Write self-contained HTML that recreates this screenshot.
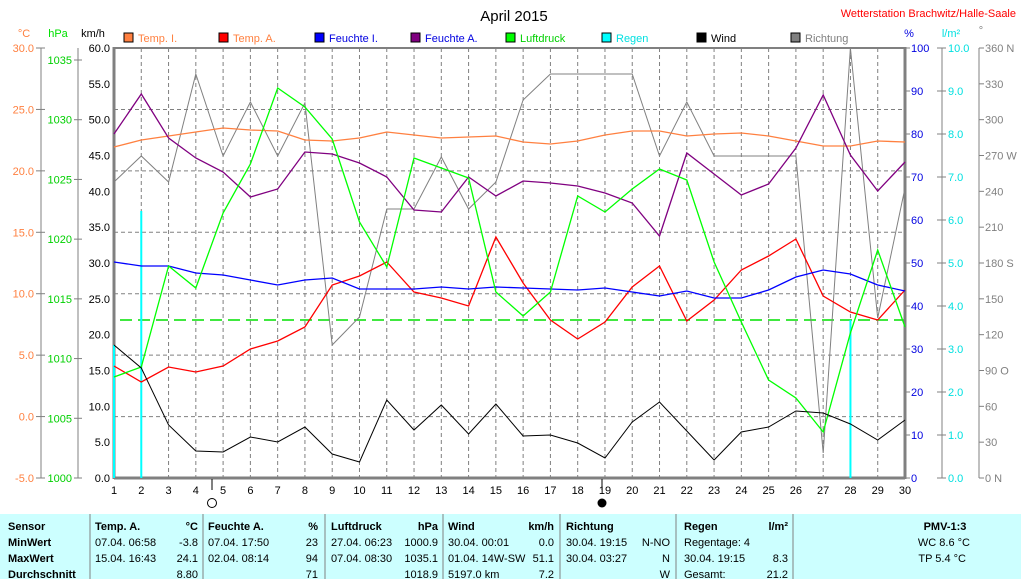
<!DOCTYPE html>
<html><head><meta charset="utf-8"><style>
body{margin:0;background:#fff;width:1021px;height:579px;overflow:hidden}
svg{display:block;font-family:"Liberation Sans",sans-serif}
.tb{font-family:"Liberation Sans",sans-serif;font-size:11px}
</style></head><body>
<svg width="1021" height="579" viewBox="0 0 1021 579">
<text x="514" y="21" font-size="15" text-anchor="middle">April 2015</text>
<text x="1016" y="17" font-size="11" fill="#f00" text-anchor="end">Wetterstation Brachwitz/Halle-Saale</text>
<g font-size="11">
<text x="24" y="37" fill="#ff8040" text-anchor="middle">°C</text>
<text x="58" y="37" fill="#00e000" text-anchor="middle">hPa</text>
<text x="93" y="37" fill="#000" text-anchor="middle">km/h</text>
<text x="909" y="37" fill="#0000e0" text-anchor="middle">%</text>
<text x="951" y="37" fill="#00e0e0" text-anchor="middle">l/m²</text>
<text x="981" y="34" fill="#808080" text-anchor="middle">°</text>
</g>
<g font-size="11" id="legend"></g>
<g id="grid" stroke="#808080" stroke-dasharray="4,3" stroke-width="1"></g>
<line x1="120" y1="320" x2="905" y2="320" stroke="#00e000" stroke-width="1.5" stroke-dasharray="12,6"/>
<g id="axes"></g>
<g id="series" fill="none"></g>
<circle cx="212" cy="503" r="4.5" fill="#fff" stroke="#000"/>
<circle cx="602" cy="503" r="4.5" fill="#000"/>
<line x1="212" y1="479" x2="212" y2="490" stroke="#000"/>
<line x1="602" y1="479" x2="602" y2="490" stroke="#000"/>
<rect x="0" y="514" width="1021" height="65" fill="#ccffff"/>
<g stroke="#808080"><line x1="90" y1="514" x2="90" y2="579"/><line x1="203" y1="514" x2="203" y2="579"/><line x1="325" y1="514" x2="325" y2="579"/><line x1="443" y1="514" x2="443" y2="579"/><line x1="560" y1="514" x2="560" y2="579"/><line x1="676" y1="514" x2="676" y2="579"/><line x1="793" y1="514" x2="793" y2="579"/></g>
<g class="tb" font-size="11">
<g font-weight="bold"><text x="8" y="530">Sensor</text><text x="8" y="546">MinWert</text><text x="8" y="562">MaxWert</text><text x="8" y="578">Durchschnitt</text>
<text x="95" y="530">Temp. A.</text><text x="198" y="530" text-anchor="end">°C</text>
<text x="208" y="530">Feuchte A.</text><text x="318" y="530" text-anchor="end">%</text>
<text x="331" y="530">Luftdruck</text><text x="438" y="530" text-anchor="end">hPa</text>
<text x="448" y="530">Wind</text><text x="554" y="530" text-anchor="end">km/h</text>
<text x="566" y="530">Richtung</text>
<text x="684" y="530">Regen</text><text x="788" y="530" text-anchor="end">l/m²</text>
<text x="945" y="530" text-anchor="middle">PMV-1:3</text></g>
<text x="95" y="546">07.04.  06:58</text><text x="198" y="546" text-anchor="end">-3.8</text>
<text x="95" y="562">15.04.  16:43</text><text x="198" y="562" text-anchor="end">24.1</text>
<text x="198" y="578" text-anchor="end">8.80</text>
<text x="208" y="546">07.04.  17:50</text><text x="318" y="546" text-anchor="end">23</text>
<text x="208" y="562">02.04.  08:14</text><text x="318" y="562" text-anchor="end">94</text>
<text x="318" y="578" text-anchor="end">71</text>
<text x="331" y="546">27.04.  06:23</text><text x="438" y="546" text-anchor="end">1000.9</text>
<text x="331" y="562">07.04.  08:30</text><text x="438" y="562" text-anchor="end">1035.1</text>
<text x="438" y="578" text-anchor="end">1018.9</text>
<text x="448" y="546">30.04.  00:01</text><text x="554" y="546" text-anchor="end">0.0</text>
<text x="448" y="562">01.04.  14W-SW</text><text x="554" y="562" text-anchor="end">51.1</text>
<text x="448" y="578">5197.0 km</text><text x="554" y="578" text-anchor="end">7.2</text>
<text x="566" y="546">30.04.  19:15</text><text x="670" y="546" text-anchor="end">N-NO</text>
<text x="566" y="562">30.04.  03:27</text><text x="670" y="562" text-anchor="end">N</text>
<text x="670" y="578" text-anchor="end">W</text>
<text x="684" y="546">Regentage: 4</text>
<text x="684" y="562">30.04.  19:15</text><text x="788" y="562" text-anchor="end">8.3</text>
<text x="684" y="578">Gesamt:</text><text x="788" y="578" text-anchor="end">21.2</text>
<text x="970" y="546" text-anchor="end">WC 8.6 °C</text>
<text x="966" y="562" text-anchor="end">TP 5.4 °C</text>
</g>
</svg>
<script>
const NS="http://www.w3.org/2000/svg";
function el(p,t,a,txt){const e=document.createElementNS(NS,t);for(const k in a)e.setAttribute(k,a[k]);if(txt!==undefined)e.textContent=txt;p.appendChild(e);return e;}
const X=d=>114+(d-1)*791/29;
const grid=document.getElementById('grid');
for(let d=2;d<=29;d++)el(grid,'line',{x1:X(d),y1:48,x2:X(d),y2:478});
for(let t=0;t<=25;t+=5){const y=416.6-t*12.286;el(grid,'line',{x1:114,y1:y,x2:905,y2:y});}
const ax=document.getElementById('axes');
const g='#808080';
el(ax,'line',{x1:114,y1:47,x2:114,y2:479,stroke:g,'stroke-width':3});
el(ax,'line',{x1:905,y1:47,x2:905,y2:479,stroke:g,'stroke-width':3});
el(ax,'line',{x1:114,y1:48,x2:905,y2:48,stroke:g,'stroke-width':2});
el(ax,'line',{x1:114,y1:478,x2:905,y2:478,stroke:g,'stroke-width':3});
el(ax,'line',{x1:41,y1:48,x2:41,y2:478,stroke:g});
el(ax,'line',{x1:78,y1:48,x2:78,y2:478,stroke:g});
el(ax,'line',{x1:942,y1:48,x2:942,y2:478,stroke:g});
el(ax,'line',{x1:979,y1:48,x2:979,y2:478,stroke:g});
for(let i=0;i<=7;i++){const y=48+i*430/7;const v=(30-5*i).toFixed(1);
 el(ax,'line',{x1:36,y1:y,x2:45,y2:y,stroke:g});el(ax,'text',{x:34,y:y+4,'font-size':11,fill:'#ff8040','text-anchor':'end'},v);}
for(let i=0;i<=7;i++){const h=1000+5*i;const y=478-(h-1000)*418/35;
 el(ax,'line',{x1:74,y1:y,x2:82,y2:y,stroke:g});el(ax,'text',{x:72,y:y+4,'font-size':11,fill:'#00d000','text-anchor':'end'},h);}
for(let i=0;i<=12;i++){const y=478-i*430/12;el(ax,'text',{x:110,y:y+4,'font-size':11,fill:'#000','text-anchor':'end'},(i*5).toFixed(1));}
for(let i=0;i<=10;i++){const y=478-i*43;
 el(ax,'line',{x1:905,y1:y,x2:910,y2:y,stroke:g});el(ax,'text',{x:911,y:y+4,'font-size':11,fill:'#0000e0'},i*10);
 el(ax,'line',{x1:937,y1:y,x2:946,y2:y,stroke:g});el(ax,'text',{x:948,y:y+4,'font-size':11,fill:'#00e0e0'},i.toFixed(1));}
const dn={0:' N',90:' O',180:' S',270:' W',360:' N'};
for(let i=0;i<=12;i++){const y=478-i*430/12;const v=i*30;
 el(ax,'line',{x1:979,y1:y,x2:984,y2:y,stroke:g});el(ax,'text',{x:985,y:y+4,'font-size':11,fill:g},v+(dn[v]||''));}
for(let d=1;d<=30;d++)el(ax,'text',{x:X(d),y:494,'font-size':11,'text-anchor':'middle'},d);
const lg=document.getElementById('legend');
const L=[['Temp. I.','#ff8040',124],['Temp. A.','#ff0000',219],['Feuchte I.','#0000ff',315],['Feuchte A.','#800080',411],['Luftdruck','#00ff00',506],['Regen','#00ffff',602],['Wind','#000000',697],['Richtung','#808080',791]];
const tc=['#ff8040','#ff8040','#0000e0','#0000e0','#00d000','#00e0e0','#000','#808080'];
L.forEach((l,i)=>{el(lg,'rect',{x:l[2],y:33,width:9,height:9,fill:l[1],stroke:'#000'});el(lg,'text',{x:l[2]+14,y:42,fill:tc[i]},l[0]);});
const s=document.getElementById('series');
[[1,345],[2,211],[28,320]].forEach(r=>el(s,'line',{x1:X(r[0]),y1:478,x2:X(r[0]),y2:r[1],stroke:'#00ffff','stroke-width':2}));
const data=[
['#808080',[182,156,182,74,156,102,156,103,345,317,209,209,157,209,182,100,74,74,74,74,156,102,156,156,156,156,453,48,318,188]],
['#ff8040',[147,140,136,132,128,130,131,140,141,138,132,135,138,137,136,142,144,141,135,131,131,136,134,133,136,141,146,146,141,142]],
['#ff0000',[366,382,367,372,366,349,341,327,285,276,262,292,298,306,237,283,320,339,322,287,266,321,300,270,256,239,296,312,320,290]],
['#0000ff',[262,266,266,273,275,280,285,280,278,289,289,289,287,289,287,288,289,290,288,292,296,291,298,298,290,277,270,274,285,291]],
['#800080',[134,94,138,158,172,197,189,152,154,163,177,210,212,177,196,181,183,186,193,203,236,153,174,195,184,148,95,155,191,162]],
['#00ff00',[377,367,266,288,213,164,88,107,139,222,267,158,168,178,292,316,292,196,212,189,169,180,262,322,380,398,432,333,250,327]],
['#000000',[345,368,425,451,452,437,442,427,454,462,400,430,405,434,404,436,435,443,458,422,402,431,460,432,427,411,413,424,440,420]]];
data.forEach(d=>el(s,'polyline',{points:d[1].map((y,i)=>X(i+1).toFixed(1)+','+y).join(' '),stroke:d[0],'stroke-width':d[0]=='#808080'||d[0]=='#000000'?1:1.3}));
</script>
</body></html>
